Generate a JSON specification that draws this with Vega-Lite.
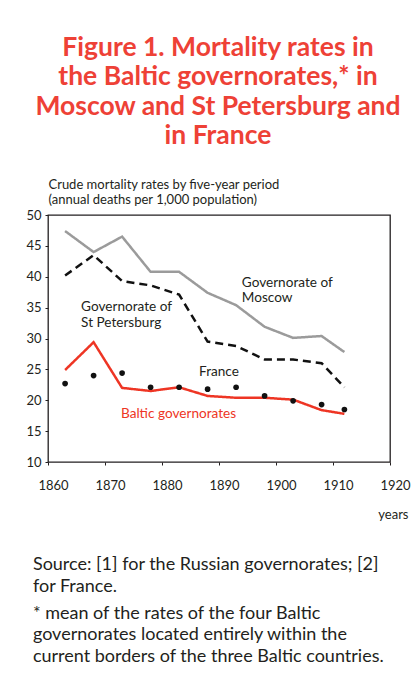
{
  "$schema": "https://vega.github.io/schema/vega-lite/v6.json",
  "background": "white",
  "padding": {"left": 25, "top": 34, "right": 0, "bottom": 5},
  "config": {
    "font": "Lato",
    "view": {"stroke": null},
    "concat": {"spacing": 0},
    "axis": {
      "labelFont": "Lato",
      "titleFont": "Lato",
      "labelColor": "#231f20",
      "titleColor": "#231f20",
      "tickColor": "#231f20",
      "domain": false,
      "grid": false,
      "titleFontWeight": "normal",
      "labelOverlap": false,
      "labelFlush": false
    }
  },
  "title": {
    "text": ["Figure 1. Mortality rates in", "the Baltic governorates,* in", "Moscow and St Petersburg and", "in France"],
    "anchor": "middle",
    "font": "Lato",
    "fontSize": 26.5,
    "fontWeight": "bold",
    "color": "#EE4136",
    "lineHeight": 29.5,
    "offset": 28
  },
  "vconcat": [
    {
      "width": 342,
      "height": 247,
      "view": {"stroke": "#231f20", "strokeWidth": 1.3},
      "title": {
        "text": ["Source: [1] for the Russian governorates; [2]", "for France."],
        "subtitle": ["* mean of the rates of the four Baltic", "governorates located entirely within the", "current borders of the three Baltic countries."],
        "orient": "bottom",
        "anchor": "start",
        "frame": "bounds",
        "font": "Lato",
        "fontSize": 18,
        "fontWeight": "normal",
        "color": "#231f20",
        "lineHeight": 21.5,
        "subtitleFont": "Lato",
        "subtitleFontSize": 18,
        "subtitleColor": "#231f20",
        "subtitleLineHeight": 21.5,
        "subtitlePadding": 9,
        "offset": 35,
        "dx": 7
      },
      "data": {
        "values": [
          {"year": 1863, "series": "Moscow", "rate": 47.4},
          {"year": 1868, "series": "Moscow", "rate": 44.0},
          {"year": 1873, "series": "Moscow", "rate": 46.5},
          {"year": 1878, "series": "Moscow", "rate": 40.8},
          {"year": 1883, "series": "Moscow", "rate": 40.8},
          {"year": 1888, "series": "Moscow", "rate": 37.4},
          {"year": 1893, "series": "Moscow", "rate": 35.4},
          {"year": 1898, "series": "Moscow", "rate": 31.9},
          {"year": 1903, "series": "Moscow", "rate": 30.1},
          {"year": 1908, "series": "Moscow", "rate": 30.4},
          {"year": 1912, "series": "Moscow", "rate": 27.8},
          {"year": 1863, "series": "St Petersburg", "rate": 40.2},
          {"year": 1868, "series": "St Petersburg", "rate": 43.5},
          {"year": 1873, "series": "St Petersburg", "rate": 39.3},
          {"year": 1878, "series": "St Petersburg", "rate": 38.6},
          {"year": 1883, "series": "St Petersburg", "rate": 37.1},
          {"year": 1888, "series": "St Petersburg", "rate": 29.5},
          {"year": 1893, "series": "St Petersburg", "rate": 28.8},
          {"year": 1898, "series": "St Petersburg", "rate": 26.6},
          {"year": 1903, "series": "St Petersburg", "rate": 26.6},
          {"year": 1908, "series": "St Petersburg", "rate": 26.0},
          {"year": 1912, "series": "St Petersburg", "rate": 22.1},
          {"year": 1863, "series": "Baltic", "rate": 24.9},
          {"year": 1868, "series": "Baltic", "rate": 29.4},
          {"year": 1873, "series": "Baltic", "rate": 22.0},
          {"year": 1878, "series": "Baltic", "rate": 21.5},
          {"year": 1883, "series": "Baltic", "rate": 22.1},
          {"year": 1888, "series": "Baltic", "rate": 20.7},
          {"year": 1893, "series": "Baltic", "rate": 20.4},
          {"year": 1898, "series": "Baltic", "rate": 20.4},
          {"year": 1903, "series": "Baltic", "rate": 20.1},
          {"year": 1908, "series": "Baltic", "rate": 18.4},
          {"year": 1912, "series": "Baltic", "rate": 17.8},
          {"year": 1863, "series": "France", "rate": 22.7},
          {"year": 1868, "series": "France", "rate": 24.0},
          {"year": 1873, "series": "France", "rate": 24.4},
          {"year": 1878, "series": "France", "rate": 22.1},
          {"year": 1883, "series": "France", "rate": 22.1},
          {"year": 1888, "series": "France", "rate": 21.8},
          {"year": 1893, "series": "France", "rate": 22.1},
          {"year": 1898, "series": "France", "rate": 20.7},
          {"year": 1903, "series": "France", "rate": 19.9},
          {"year": 1908, "series": "France", "rate": 19.3},
          {"year": 1912, "series": "France", "rate": 18.5}
        ]
      },
      "layer": [
        {
          "transform": [{"filter": "datum.series !== 'France'"}],
          "mark": {"type": "line", "strokeWidth": 2.5},
          "encoding": {
            "x": {
              "field": "year",
              "type": "quantitative",
              "scale": {"domain": [1860, 1920], "nice": false, "zero": false},
              "axis": {
                "values": [1860, 1870, 1880, 1890, 1900, 1910, 1920],
                "format": "d",
                "tickSize": 3,
                "labelFontSize": 13,
                "labelPadding": 14,
                "labelOffset": 5,
                "labelOverlap": false,
                "labelFlush": false,
                "title": "years",
                "titleFontSize": 13,
                "titleAnchor": "end",
                "titleAlign": "right",
                "titleBaseline": "alphabetic",
                "titleX": 360,
                "titleY": 56
              }
            },
            "y": {
              "field": "rate",
              "type": "quantitative",
              "scale": {"domain": [10, 50], "nice": false, "zero": false},
              "axis": {
                "values": [10, 15, 20, 25, 30, 35, 40, 45, 50],
                "tickCount": 9,
                "tickSize": 3,
                "labelFontSize": 13,
                "labelPadding": 4,
                "labelOverlap": false,
                "labelFlush": false,
                "labelSeparation": 0,
                "title": ["Crude mortality rates by five-year period", "(annual deaths per 1,000 population)"],
                "titleFontSize": 13,
                "titleLineHeight": 14.5,
                "titleAngle": 0,
                "titleAnchor": "end",
                "titleAlign": "left",
                "titleBaseline": "alphabetic",
                "titleX": 0,
                "titleY": -26.5
              }
            },
            "color": {
              "field": "series",
              "type": "nominal",
              "scale": {"domain": ["Moscow", "St Petersburg", "Baltic"], "range": ["#9b9b9b", "#111111", "#EE3524"]},
              "legend": null
            },
            "strokeDash": {
              "field": "series",
              "type": "nominal",
              "scale": {"domain": ["Moscow", "St Petersburg", "Baltic"], "range": [[1, 0], [8, 5], [1, 0]]},
              "legend": null
            }
          }
        },
        {
          "transform": [{"filter": "datum.series === 'France'"}],
          "mark": {"type": "point", "filled": true, "opacity": 1, "size": 32, "color": "#111111"},
          "encoding": {
            "x": {"field": "year", "type": "quantitative"},
            "y": {"field": "rate", "type": "quantitative"}
          }
        },
        {
          "data": {"values": [{"label": ["Governorate of", "Moscow"]}]},
          "mark": {"type": "text", "align": "left", "baseline": "alphabetic", "font": "Lato", "fontSize": 13.6, "lineHeight": 15.2, "color": "#231f20"},
          "encoding": {
            "x": {"datum": 1894, "type": "quantitative"},
            "y": {"datum": 38.4, "type": "quantitative"},
            "text": {"field": "label"}
          }
        },
        {
          "data": {"values": [{"label": ["Governorate of", "St Petersburg"]}]},
          "mark": {"type": "text", "align": "left", "baseline": "alphabetic", "font": "Lato", "fontSize": 13.6, "lineHeight": 15.2, "color": "#231f20"},
          "encoding": {
            "x": {"datum": 1865.8, "type": "quantitative"},
            "y": {"datum": 34.4, "type": "quantitative"},
            "text": {"field": "label"}
          }
        },
        {
          "data": {"values": [{"label": "France"}]},
          "mark": {"type": "text", "align": "left", "baseline": "alphabetic", "font": "Lato", "fontSize": 13.6, "color": "#231f20"},
          "encoding": {
            "x": {"datum": 1886.5, "type": "quantitative"},
            "y": {"datum": 23.85, "type": "quantitative"},
            "text": {"field": "label"}
          }
        },
        {
          "data": {"values": [{"label": "Baltic governorates"}]},
          "mark": {"type": "text", "align": "left", "baseline": "alphabetic", "font": "Lato", "fontSize": 13.6, "color": "#EE3524"},
          "encoding": {
            "x": {"datum": 1872.8, "type": "quantitative"},
            "y": {"datum": 17.1, "type": "quantitative"},
            "text": {"field": "label"}
          }
        }
      ]
    }
  ]
}
